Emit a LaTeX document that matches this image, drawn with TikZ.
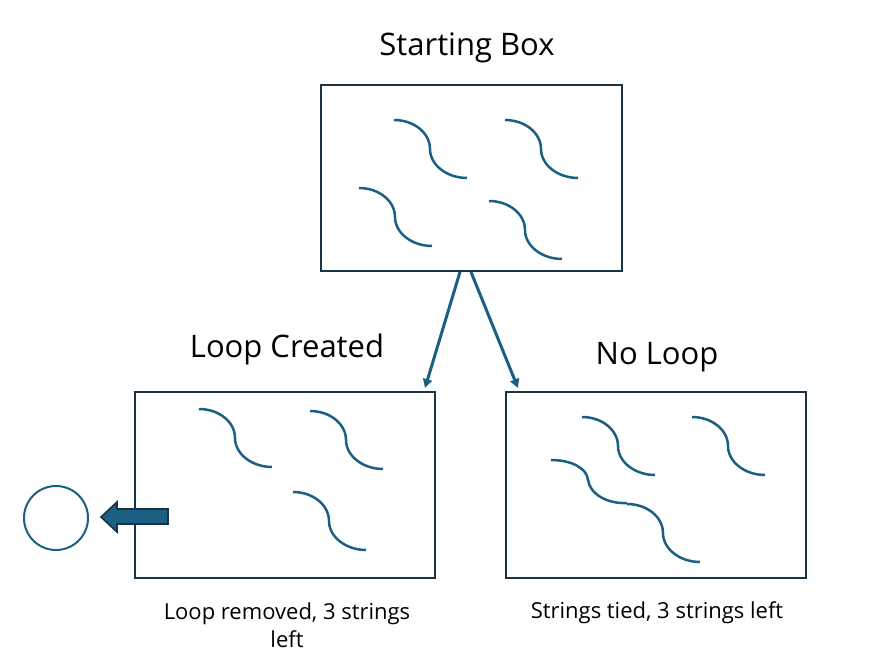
\documentclass[tikz,border=0pt]{standalone}
\usepackage{fontspec}
\setmainfont{Open Sans}
\definecolor{teal1}{RGB}{27,96,130}
\definecolor{dark1}{RGB}{24,52,68}
\tikzset{
  box/.style={draw=dark1, line width=2pt, rectangle, minimum width=300pt, minimum height=186pt, inner sep=0pt},
  strline/.style={draw=teal1, line width=2.5pt},
  conn/.style={draw=teal1, line width=3pt, -{Triangle[length=9pt,width=9pt]}},
  title/.style={font=\fontsize{31}{37}\selectfont, anchor=base, inner sep=0pt},
  caption/.style={font=\fontsize{22}{28}\selectfont, anchor=base, inner sep=0pt, align=center},
  strng/.pic={\draw[strline] (0,0) .. controls (20,0) and (36,13) .. (36,29) .. controls (36,45) and (53,58) .. (73,58);}
}
\usetikzlibrary{arrows.meta}
\begin{document}
\begin{tikzpicture}[x=1pt,y=-1pt]
\useasboundingbox[fill=white] (0,0) rectangle (876,666);
% boxes
\node[box, minimum width=301pt] (sb) at (471.5,178) {};
\node[box] (lc) at (285,485) {};
\node[box] (nl) at (656,485) {};
% titles
\node[title] (tsb) at (467,56) {Starting Box};
\node[title] (tlc) at (287,357) {Loop Created};
\node[title] (tnl) at (657,364) {No Loop};
% captions
\node[caption] (clc) at (287,647) {Loop removed, 3 strings\\left};
\node[caption] (cnl) at (657,618) {Strings tied, 3 strings left};
% strings in starting box
\pic at (394,120) {strng};
\pic at (505,120) {strng};
\pic at (359,188) {strng};
\pic at (489,201) {strng};
% strings in loop created box
\pic at (199,409) {strng};
\pic at (310,411) {strng};
\pic at (293,492) {strng};
% strings in no loop box
\pic at (582,417) {strng};
\pic at (692,417) {strng};
\draw[strline] (551,460) .. controls (571,460) and (587,468) .. (588,480) .. controls (590,494) and (607,504) .. (627,503);
\pic at (627,504) {strng};
% connectors
\coordinate (e1) at (425,388);
\coordinate (e2) at (518,388);
\draw[conn] ([xshift=-11.5pt]sb.south) -- (e1);
\draw[conn] ([xshift=-0.5pt]sb.south) -- (e2);
% removed loop
\node[draw=teal1, line width=2pt, circle, minimum size=64pt, inner sep=0pt] (loop) at (56,518) {};
\draw[fill=teal1, draw=dark1, line width=1.6pt, line join=miter] (168,509) -- (117,509) -- (117,502) -- (101,517) -- (117,532) -- (117,524) -- (168,524) -- cycle;
\end{tikzpicture}
\end{document}
